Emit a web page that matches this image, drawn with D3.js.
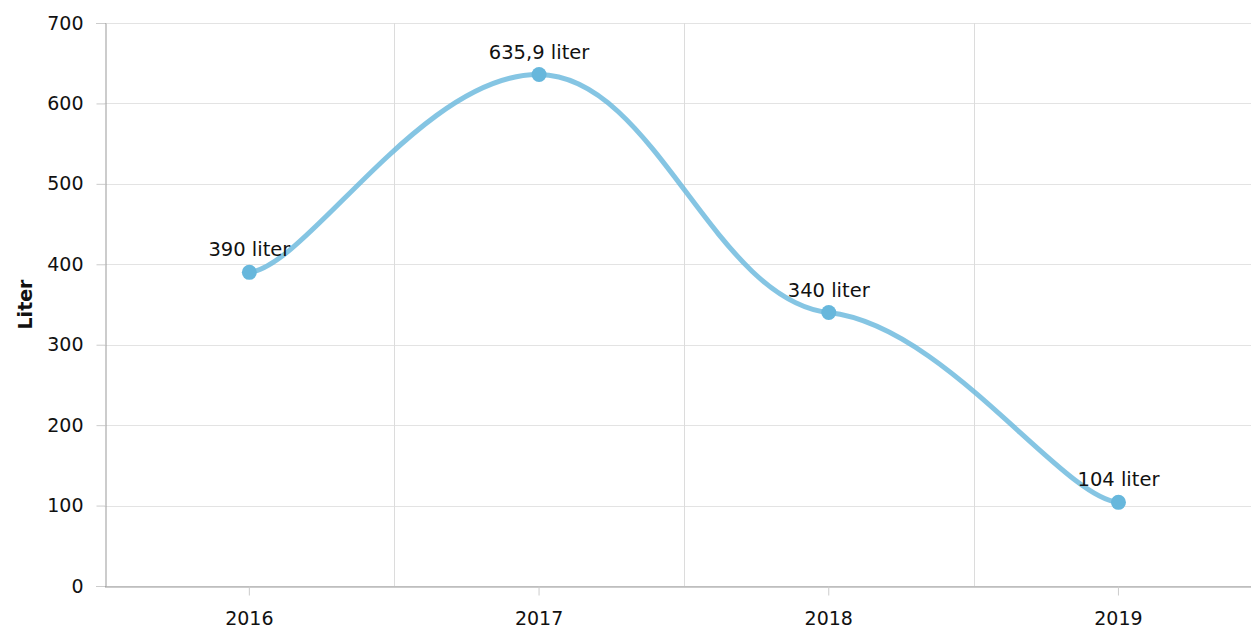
<!DOCTYPE html>
<html>
<head>
<meta charset="utf-8">
<script src="https://cdn.jsdelivr.net/npm/d3@7"></script>
<style>
  body { margin: 0; background: #fff; }
  svg { display: block; font-family: "DejaVu Sans", Verdana, sans-serif; }
</style>
</head>
<body>
<svg id="chart" width="1251" height="630"></svg>
<script>
// chart data
var years = ["2016", "2017", "2018", "2019"];
var liters = [390, 635.9, 340, 104];
var pointLabels = ["390 liter", "635,9 liter", "340 liter", "104 liter"];
var yTicks = [0, 100, 200, 300, 400, 500, 600, 700];

var svg = d3.select("#chart");
var margin = { left: 104.5, top: 23, bottom: 44 };
var plotBottom = 630 - margin.bottom;
var band = 289.7;

// band scale runs past the window edge, like the original
var x = d3.scaleBand().domain(years).range([margin.left, margin.left + years.length * band]);
var y = d3.scaleLinear().domain([0, 700]).range([plotBottom, margin.top]);

// tension smoothing: separate x / y handle factors
function curveTension(kx, ky) {
  function Tension(context) { this._context = context; }
  Tension.prototype = {
    areaStart: function () { this._line = 0; },
    areaEnd: function () { this._line = NaN; },
    lineStart: function () { this._pts = []; },
    point: function (px, py) { this._pts.push([+px, +py]); },
    lineEnd: function () {
      var p = this._pts, n = p.length, c = this._context;
      if (!n) return;
      c.moveTo(p[0][0], p[0][1]);
      for (var i = 0; i < n - 1; i++) {
        var p0 = p[i > 0 ? i - 1 : i], p1 = p[i], p2 = p[i + 1], p3 = p[i + 2 < n ? i + 2 : i + 1];
        c.bezierCurveTo(
          p1[0] + (p2[0] - p0[0]) * kx, p1[1] + (p2[1] - p0[1]) * ky,
          p2[0] - (p3[0] - p1[0]) * kx, p2[1] - (p3[1] - p1[1]) * ky,
          p2[0], p2[1]);
      }
    }
  };
  return function (context) { return new Tension(context); };
}

// horizontal grid
svg.append("g").selectAll("line").data(yTicks).enter().append("line")
  .attr("x1", margin.left).attr("x2", 1251)
  .attr("y1", function (d) { return Math.round(y(d)) + 0.5; })
  .attr("y2", function (d) { return Math.round(y(d)) + 0.5; })
  .attr("stroke", "#e3e3e3").attr("stroke-width", 1);

// vertical grid at band edges
svg.append("g").selectAll("line").data(years.slice(1)).enter().append("line")
  .attr("x1", function (d) { return Math.round(x(d)) + 0.5; })
  .attr("x2", function (d) { return Math.round(x(d)) + 0.5; })
  .attr("y1", margin.top).attr("y2", plotBottom)
  .attr("stroke", "#dcdcdc").attr("stroke-width", 1);

// y axis
var yAxis = svg.append("g")
  .attr("transform", "translate(" + (Math.round(margin.left) + 0.5) + ",0)")
  .call(d3.axisLeft(y).tickValues(yTicks).tickSize(9).tickPadding(13));
yAxis.select(".domain").attr("stroke", "#999");
yAxis.selectAll(".tick line").attr("stroke", "#ccc");
yAxis.selectAll(".tick text").attr("font-size", 19).attr("fill", "#111")
  .attr("font-family", "DejaVu Sans, Verdana, sans-serif");

// x axis
var xAxis = svg.append("g")
  .attr("transform", "translate(0," + (plotBottom + 0.5) + ")")
  .call(d3.axisBottom(x).tickSizeInner(9).tickSizeOuter(0).tickPadding(16));
xAxis.select(".domain").attr("stroke", "#999");
xAxis.selectAll(".tick line").attr("stroke", "#ccc");
xAxis.selectAll(".tick text").attr("font-size", 19).attr("fill", "#111")
  .attr("font-family", "DejaVu Sans, Verdana, sans-serif");

// y axis title
svg.append("text")
  .attr("transform", "translate(32," + ((margin.top + plotBottom) / 2) + ") rotate(-90)")
  .attr("text-anchor", "middle")
  .attr("font-size", 19).attr("font-weight", "bold").attr("fill", "#111")
  .text("Liter");

var rows = years.map(function (yr, i) {
  return { year: yr, value: liters[i], label: pointLabels[i] };
});

var line = d3.line()
  .x(function (d) { return x(d.year) + x.bandwidth() / 2; })
  .y(function (d) { return y(d.value); })
  .curve(curveTension(0.2, 0.03));

svg.append("path")
  .datum(rows)
  .attr("d", line)
  .attr("fill", "none")
  .attr("stroke", "#67b7dc")
  .attr("stroke-opacity", 0.8)
  .attr("stroke-width", 5);

svg.append("g").selectAll("circle").data(rows).enter().append("circle")
  .attr("cx", function (d) { return x(d.year) + x.bandwidth() / 2; })
  .attr("cy", function (d) { return y(d.value); })
  .attr("r", 7.5)
  .attr("fill", "#67b7dc");

svg.append("g").selectAll("text").data(rows).enter().append("text")
  .attr("x", function (d) { return x(d.year) + x.bandwidth() / 2; })
  .attr("y", function (d) { return y(d.value) - 16; })
  .attr("text-anchor", "middle")
  .attr("font-size", 19.5)
  .attr("fill", "#111")
  .text(function (d) { return d.label; });
</script>
</body>
</html>
